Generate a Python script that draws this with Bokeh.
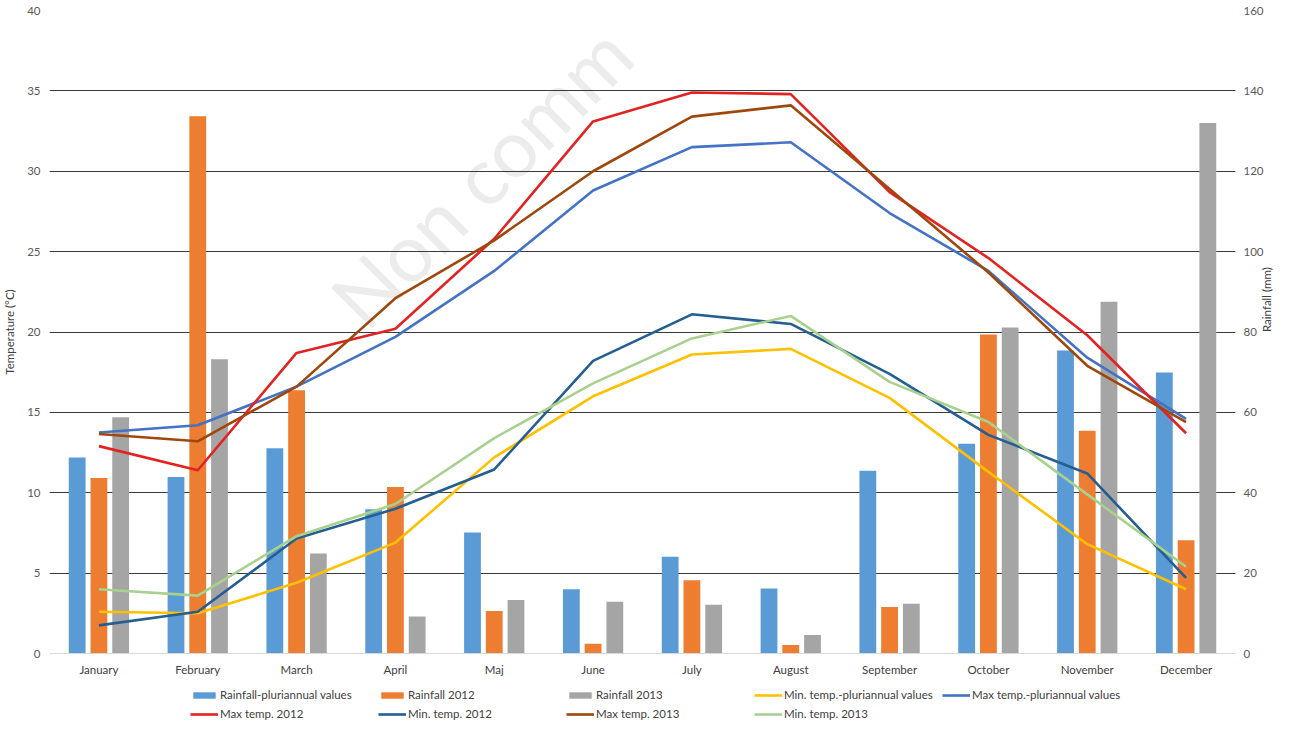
import math
from bokeh.plotting import figure
from bokeh.models import (FactorRange, Range1d, LinearAxis, Legend, LegendItem,
                          Label, ColumnDataSource, FixedTicker)
from bokeh.transform import dodge
from bokeh.embed import file_html
from bokeh.resources import INLINE

months = ["January", "February", "March", "April", "Maj", "June", "July",
          "August", "September", "October", "November", "December"]

# Rainfall (mm) - right axis
rain_plur = [48.8, 43.9, 51.1, 35.9, 30.1, 16.0, 24.1, 16.2, 45.5, 52.2, 75.4, 69.9]
rain_2012 = [43.7, 133.7, 65.5, 41.4, 10.6, 2.4, 18.2, 2.1, 11.6, 79.4, 55.4, 28.2]
rain_2013 = [58.8, 73.2, 24.9, 9.2, 13.3, 12.9, 12.1, 4.6, 12.4, 81.1, 87.5, 132.0]

# Temperatures (°C) - left axis
min_plur = [2.6, 2.5, 4.4, 6.9, 12.2, 16.0, 18.6, 18.95, 15.9, 11.3, 6.8, 4.0]
max_plur = [13.75, 14.2, 16.6, 19.7, 23.8, 28.8, 31.5, 31.8, 27.4, 23.8, 18.4, 14.6]
max_2012 = [12.9, 11.4, 18.7, 20.2, 25.8, 33.1, 34.9, 34.8, 28.7, 24.6, 19.8, 13.7]
min_2012 = [1.75, 2.6, 7.15, 9.0, 11.45, 18.2, 21.1, 20.5, 17.4, 13.6, 11.2, 4.7]
max_2013 = [13.65, 13.2, 16.6, 22.1, 25.7, 30.0, 33.4, 34.1, 28.9, 23.7, 17.9, 14.4]
min_2013 = [4.0, 3.6, 7.3, 9.3, 13.4, 16.8, 19.6, 21.0, 16.9, 14.4, 9.9, 5.4]

temp_ticks = [0, 5, 10, 15, 20, 25, 30, 35, 40]
rain_ticks = [0, 20, 40, 60, 80, 100, 120, 140, 160]

series_labels = ["Rainfall-pluriannual values", "Rainfall 2012", "Rainfall 2013",
                 "Min. temp.-pluriannual values", "Max temp.-pluriannual values",
                 "Max temp. 2012", "Min. temp. 2012", "Max temp. 2013", "Min. temp. 2013"]
series_colors = ["#5B9BD5", "#ED7D31", "#A5A5A5", "#FFC000", "#4472C4",
                 "#E32222", "#255E91", "#9E480E", "#A9D18E"]

src = ColumnDataSource(dict(month=months, rain_plur=rain_plur, rain_2012=rain_2012,
                            rain_2013=rain_2013, min_plur=min_plur, max_plur=max_plur,
                            max_2012=max_2012, min_2012=min_2012, max_2013=max_2013,
                            min_2013=min_2013))

FONT = "Lato"
TXT = "#595959"
FS = "11.5px"

p = figure(width=1282, height=678, x_range=FactorRange(*months),
           y_range=Range1d(0, 40), output_backend="svg", toolbar_location=None,
           min_border_left=44, min_border_right=46, min_border_top=10,
           min_border_bottom=24)
p.extra_y_ranges = {"rain": Range1d(0, 160)}
p.outline_line_color = None
p.background_fill_color = "white"

# watermark
wm = Label(x=295, y=342, x_units="screen", y_units="screen", text="Non comm",
           angle=math.pi / 4, text_font_size="80px", text_color="#ececec",
           text_font=FONT, text_align="left", text_baseline="alphabetic",
           level="image")
p.add_layout(wm)

# axes
p.xgrid.grid_line_color = None
p.ygrid.ticker = FixedTicker(ticks=temp_ticks)
p.ygrid.grid_line_color = "#3a3a3a"
p.ygrid.grid_line_width = 1


def strip(ax):
    ax.major_tick_line_color = None
    ax.minor_tick_line_color = None
    ax.major_tick_out = 0
    ax.major_tick_in = 0
    ax.minor_tick_out = 0
    ax.minor_tick_in = 0
    ax.major_label_text_font = FONT
    ax.major_label_text_font_size = FS
    ax.major_label_text_color = TXT


xa = p.xaxis[0]
strip(xa)
xa.axis_line_color = "#d9d9d9"
xa.major_label_standoff = 9
xa.major_label_text_color = "#404040"

ya = p.yaxis[0]
strip(ya)
ya.ticker = FixedTicker(ticks=temp_ticks)
ya.axis_line_color = None
ya.major_label_standoff = 9
ya.axis_label = "Temperature (°C)"
ya.axis_label_text_font = FONT
ya.axis_label_text_font_style = "normal"
ya.axis_label_text_font_size = FS
ya.axis_label_text_color = "#404040"
ya.axis_label_standoff = 8

ra = LinearAxis(y_range_name="rain", ticker=FixedTicker(ticks=rain_ticks))
strip(ra)
ra.axis_line_color = None
ra.major_label_standoff = 8
ra.axis_label = "Rainfall (mm)"
ra.axis_label_text_font = FONT
ra.axis_label_text_font_style = "normal"
ra.axis_label_text_font_size = FS
ra.axis_label_text_color = "#404040"
ra.axis_label_standoff = 0
ra.axis_label_orientation = math.pi / 2
p.add_layout(ra, "right")

# bars
bw = 0.17
p.vbar(x=dodge("month", -0.22, range=p.x_range), top="rain_plur", width=bw,
       source=src, y_range_name="rain", fill_color=series_colors[0], line_color=None)
p.vbar(x=dodge("month", 0.0, range=p.x_range), top="rain_2012", width=bw,
       source=src, y_range_name="rain", fill_color=series_colors[1], line_color=None)
p.vbar(x=dodge("month", 0.22, range=p.x_range), top="rain_2013", width=bw,
       source=src, y_range_name="rain", fill_color=series_colors[2], line_color=None)

# lines
lw = 2.6
line_cols = ["min_plur", "max_plur", "max_2012", "min_2012", "max_2013", "min_2013"]
for col, c in zip(line_cols, series_colors[3:]):
    p.line("month", col, source=src, line_color=c, line_width=lw)

# legend strip (separate small canvas under the chart); its key renderers sit
# outside the strip's visible range so only the legend keys show
lg = figure(width=1282, height=42, x_range=(0, 1), y_range=(0, 1),
            output_backend="svg", toolbar_location=None, min_border=0,
            x_axis_location=None, y_axis_location=None)
lg.outline_line_color = None
lg.grid.grid_line_color = None
items = []
for i, (lab, c) in enumerate(zip(series_labels, series_colors)):
    if i < 3:
        r = lg.vbar(x=[5], top=[1], width=0.1, fill_color=c, line_color=None)
    else:
        r = lg.line(x=[5, 6], y=[0.5, 0.5], line_color=c, line_width=lw)
    items.append(LegendItem(label=lab, renderers=[r]))
legend = Legend(items=items, location=(190, 0), orientation="horizontal", ncols=5,
                glyph_width=28, glyph_height=8, label_width=152, label_height=12,
                label_standoff=2, spacing=6, padding=0, margin=0,
                label_text_font=FONT, label_text_font_size=FS,
                label_text_color="#404040", background_fill_alpha=0,
                border_line_color=None)
lg.add_layout(legend, "center")

open("out.html", "w").write(file_html([p, lg], INLINE))
